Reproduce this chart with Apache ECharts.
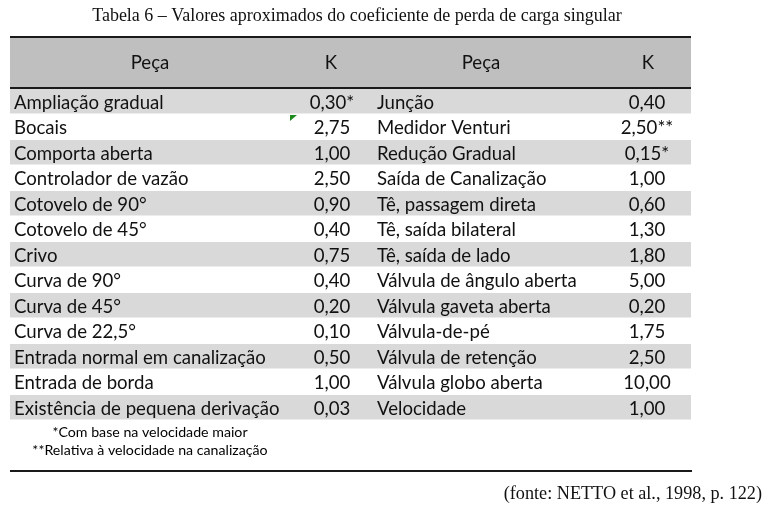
<!DOCTYPE html>
<html>
<head>
<meta charset="utf-8">
<script src="https://cdn.jsdelivr.net/npm/echarts@6/dist/echarts.min.js"></script>
<style>html,body{margin:0;padding:0;background:#fff}#c{width:768px;height:511px}</style>
</head>
<body>
<div id="c"></div>
<script>
const title = 'Tabela 6 – Valores aproximados do coeficiente de perda de carga singular';
const headers = ['Peça', 'K', 'Peça', 'K'];
const pecaLeft = ['Ampliação gradual', 'Bocais', 'Comporta aberta', 'Controlador de vazão', 'Cotovelo de 90°', 'Cotovelo de 45°', 'Crivo', 'Curva de 90°', 'Curva de 45°', 'Curva de 22,5°', 'Entrada normal em canalização', 'Entrada de borda', 'Existência de pequena derivação'];
const kLeft = [0.30, 2.75, 1.00, 2.50, 0.90, 0.40, 0.75, 0.40, 0.20, 0.10, 0.50, 1.00, 0.03];
const noteLeft = ['*', '', '', '', '', '', '', '', '', '', '', '', ''];
const pecaRight = ['Junção', 'Medidor Venturi', 'Redução Gradual', 'Saída de Canalização', 'Tê, passagem direta', 'Tê, saída bilateral', 'Tê, saída de lado', 'Válvula de ângulo aberta', 'Válvula gaveta aberta', 'Válvula-de-pé', 'Válvula de retenção', 'Válvula globo aberta', 'Velocidade'];
const kRight = [0.40, 2.50, 0.15, 1.00, 0.60, 1.30, 1.80, 5.00, 0.20, 1.75, 2.50, 10.00, 1.00];
const noteRight = ['', '**', '*', '', '', '', '', '', '', '', '', '', ''];
const footnotes = ['*Com base na velocidade maior', '**Relativa à velocidade na canalização'];
const source = '(fonte: NETTO et al., 1998, p. 122)';

const fmt = (v, n) => v.toFixed(2).replace('.', ',') + n;
const bodyFont = 'Lato, "Open Sans", sans-serif';
const FS = 18.6;
const rowIdx = pecaLeft.map((_, i) => i);

const chart = echarts.init(document.getElementById('c'), null, {renderer: 'canvas'});
chart.setOption({
  animation: false,
  backgroundColor: '#fff',
  grid: {left: 10, top: 89, width: 680, height: 331.5},
  xAxis: {type: 'value', min: 0, max: 680, show: false},
  yAxis: {type: 'category', data: rowIdx, inverse: true, show: false},
  graphic: [
    {type: 'text', x: 357, y: 16, style: {text: title, font: '18px "Liberation Serif", serif', fill: '#111', align: 'center', verticalAlign: 'middle'}},
    {type: 'rect', shape: {x: 10, y: 37, width: 681, height: 51}, style: {fill: '#bfbfbf'}},
    {type: 'line', shape: {x1: 10, y1: 37, x2: 691, y2: 37}, style: {stroke: '#1a1a1a', lineWidth: 2}},
    {type: 'line', shape: {x1: 10, y1: 88, x2: 691, y2: 88}, style: {stroke: '#1a1a1a', lineWidth: 2}},
    {type: 'text', x: 150, y: 63, style: {text: headers[0], font: FS + 'px ' + bodyFont, fill: '#111', align: 'center', verticalAlign: 'middle'}},
    {type: 'text', x: 331, y: 63, style: {text: headers[1], font: FS + 'px ' + bodyFont, fill: '#111', align: 'center', verticalAlign: 'middle'}},
    {type: 'text', x: 481, y: 63, style: {text: headers[2], font: FS + 'px ' + bodyFont, fill: '#111', align: 'center', verticalAlign: 'middle'}},
    {type: 'text', x: 648, y: 63, style: {text: headers[3], font: FS + 'px ' + bodyFont, fill: '#111', align: 'center', verticalAlign: 'middle'}},
    {type: 'polygon', shape: {points: [[290, 115], [297, 115], [290, 121]]}, style: {fill: '#1e8a1e'}, z: 10},
    {type: 'text', x: 150, y: 432, style: {text: footnotes[0], font: '14.2px ' + bodyFont, fill: '#000', align: 'center', verticalAlign: 'middle'}},
    {type: 'text', x: 150, y: 450, style: {text: footnotes[1], font: '14.2px ' + bodyFont, fill: '#000', align: 'center', verticalAlign: 'middle'}},
    {type: 'line', shape: {x1: 10, y1: 471, x2: 692, y2: 471}, style: {stroke: '#1a1a1a', lineWidth: 2}},
    {type: 'text', x: 762, y: 494, style: {text: source, font: '18.2px "Liberation Serif", serif', fill: '#111', align: 'right', verticalAlign: 'middle'}}
  ],
  series: [{
    type: 'custom',
    data: rowIdx.map(i => [i]),
    encode: {y: 0},
    renderItem: function (params, api) {
      const i = api.value(0);
      const c0 = api.coord([0, i]);
      const c1 = api.coord([680, i]);
      const h = api.size([0, 1])[1];
      const y = c0[1];
      const children = [];
      if (i % 2 === 0) {
        children.push({type: 'rect', shape: {x: c0[0], y: y - h / 2, width: c1[0] - c0[0] + 1, height: h - 1}, style: {fill: '#d9d9d9'}});
      }
      const t = (x, txt, align) => ({type: 'text', x: api.coord([x, i])[0], y: y + 1, style: {text: txt, font: FS + 'px ' + bodyFont, fill: '#111', align: align, verticalAlign: 'middle'}});
      children.push(t(4, pecaLeft[i], 'left'));
      children.push(t(322, fmt(kLeft[i], noteLeft[i]), 'center'));
      children.push(t(367, pecaRight[i], 'left'));
      children.push(t(637, fmt(kRight[i], noteRight[i]), 'center'));
      return {type: 'group', children: children};
    }
  }]
});
</script>
</body>
</html>
